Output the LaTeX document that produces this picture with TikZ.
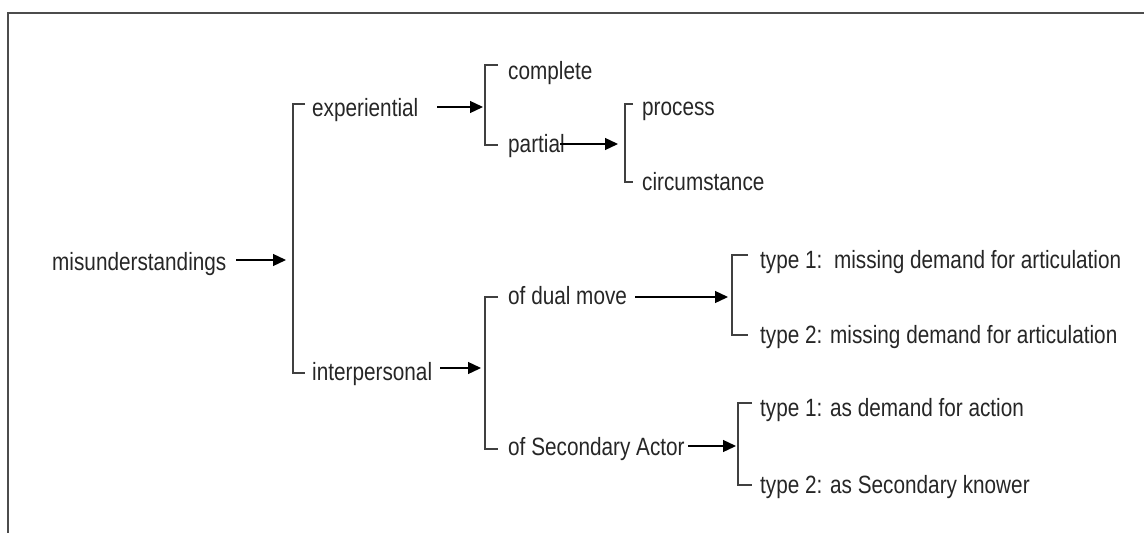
\documentclass[tikz,border=0pt]{standalone}
\usepackage{fontspec}
\setmainfont[FakeStretch=0.83]{Liberation Sans}
\usetikzlibrary{arrows.meta}
\begin{document}
\begin{tikzpicture}[x=1pt,y=-1pt,
  lbl/.style={anchor=base west,inner sep=0pt,font=\fontsize{25}{25}\selectfont,text=black!85},
  brk/.style={draw=black!75,line width=1.4pt},
  arr/.style={draw=black,line width=1.3pt,-{Triangle[length=13pt,width=12pt]}},
  frame/.style={draw=black!70,line width=1.6pt}]
\useasboundingbox (0,0) rectangle (1144,533);
\draw[frame] (8,533) -- (8,13) -- (1144,13);

% text nodes
\node[lbl] (mis) at (52,270) {misunderstandings};
\node[lbl] (exp) at (312,116) {experiential};
\node[lbl] (int) at (312,380) {interpersonal};
\node[lbl] (com) at (508,79) {complete};
\node[lbl] (par) at (508,152) {partial};
\node[lbl] (pro) at (642,115) {process};
\node[lbl] (cir) at (642,190) {circumstance};
\node[lbl] (dua) at (508,304) {of dual move};
\node[lbl] (sec) at (508,455) {of Secondary Actor};
\node[lbl] (t1m) at (760,268) {type 1:\ \ missing demand for articulation};
\node[lbl] (t2m) at (760,343) {type 2: missing demand for articulation};
\node[lbl] (t1a) at (760,416) {type 1: as demand for action};
\node[lbl] (t2a) at (760,493) {type 2: as Secondary knower};

% bracket coordinates
\coordinate (b1t) at (305,104); \coordinate (b1b) at (305,373);
\coordinate (b2t) at (498,65);  \coordinate (b2b) at (498,145);
\coordinate (b3t) at (633,104); \coordinate (b3b) at (633,182);
\coordinate (b4t) at (498,297); \coordinate (b4b) at (498,449);
\coordinate (b5t) at (748,255); \coordinate (b5b) at (748,335);
\coordinate (b6t) at (752,403); \coordinate (b6b) at (752,485);

\draw[brk] (b1t) -- (293,104) -- (293,373) -- (b1b);
\draw[brk] (b2t) -- (485,65) -- (485,145) -- (b2b);
\draw[brk] (b3t) -- (625,104) -- (625,182) -- (b3b);
\draw[brk] (b4t) -- (485,297) -- (485,449) -- (b4b);
\draw[brk] (b5t) -- (732,255) -- (732,335) -- (b5b);
\draw[brk] (b6t) -- (738,403) -- (738,485) -- (b6b);

% arrow ends
\coordinate (a1s) at (236,260); \coordinate (a1e) at (286,260);
\coordinate (a2s) at (437,107); \coordinate (a2e) at (483,107);
\coordinate (a3s) at (560,144); \coordinate (a3e) at (618,144);
\coordinate (a4s) at (440,368); \coordinate (a4e) at (481,368);
\coordinate (a5s) at (635,297); \coordinate (a5e) at (728,297);
\coordinate (a6s) at (688,446); \coordinate (a6e) at (736,446);

\draw[arr] (a1s) -- (a1e);
\draw[arr] (a2s) -- (a2e);
\draw[arr] (a3s) -- (a3e);
\draw[arr] (a4s) -- (a4e);
\draw[arr] (a5s) -- (a5e);
\draw[arr] (a6s) -- (a6e);
\end{tikzpicture}
\end{document}
